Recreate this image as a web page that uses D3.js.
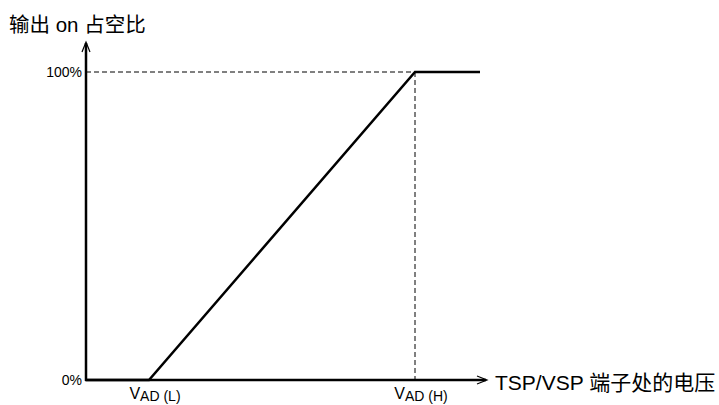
<!DOCTYPE html>
<html>
<head>
<meta charset="utf-8">
<script src="https://cdn.jsdelivr.net/npm/d3@7"></script>
<style>
  body { margin: 0; background: #fff; }
  text { font-family: "Liberation Sans", Arial, "Noto Sans CJK SC", sans-serif; fill: #000; }
</style>
</head>
<body>
<svg id="chart" width="719" height="405"></svg>
<script>
// voltage position (percent of axis length) vs duty
const voltage = [0, 15.75, 82.25, 98.5];
const duty = [0, 0, 100, 100];
const yTicks = [0, 100];
const yTickLabels = ["0%", "100%"];
const xMarks = [15.75, 82.25];
const xMarkLabels = ["L", "H"];

const svg = d3.select("#chart");
const x0 = 86, y0 = 380;

const x = d3.scaleLinear().domain([0, 100]).range([x0, 486]);
const y = d3.scaleLinear().domain([0, 100]).range([y0, 72]);

// dashed guides
svg.append("line")
  .attr("x1", x(0)).attr("x2", x(82.25))
  .attr("y1", y(100)).attr("y2", y(100))
  .attr("stroke", "#000").attr("stroke-width", 1).attr("stroke-dasharray", "5,3");
svg.append("line")
  .attr("x1", x(82.25)).attr("x2", x(82.25))
  .attr("y1", y(100)).attr("y2", y(0))
  .attr("stroke", "#000").attr("stroke-width", 1).attr("stroke-dasharray", "5,3");

// axes
svg.append("line")
  .attr("x1", x0).attr("x2", x0).attr("y1", y0 + 1).attr("y2", 43)
  .attr("stroke", "#000").attr("stroke-width", 2.5);
svg.append("path")
  .attr("d", `M${x0 - 4},52 L${x0},42 L${x0 + 4},52`)
  .attr("fill", "none").attr("stroke", "#000").attr("stroke-width", 1.2);

svg.append("line")
  .attr("x1", x0 - 1).attr("x2", 486).attr("y1", y0).attr("y2", y0)
  .attr("stroke", "#000").attr("stroke-width", 2.5);
svg.append("path")
  .attr("d", `M477,${y0 - 4} L487,${y0} L477,${y0 + 4}`)
  .attr("fill", "none").attr("stroke", "#000").attr("stroke-width", 1.2);

// curve
const pts = voltage.map((v, i) => [v, duty[i]]);
svg.append("path")
  .datum(pts)
  .attr("d", d3.line().x(d => x(d[0])).y(d => y(d[1])))
  .attr("fill", "none").attr("stroke", "#000").attr("stroke-width", 2.5)
  .attr("stroke-linejoin", "miter");

// y tick labels
svg.selectAll("text.ytick")
  .data(yTicks)
  .enter().append("text")
    .attr("class", "ytick")
    .attr("x", x0 - 4)
    .attr("y", d => y(d) + 5)
    .attr("text-anchor", "end")
    .style("font-size", "14px")
    .text((d, i) => yTickLabels[i]);

// x marks
const xl = svg.selectAll("text.xmark")
  .data(xMarks)
  .enter().append("text")
    .attr("class", "xmark")
    .attr("x", d => x(d) + 6)
    .attr("y", 399)
    .attr("text-anchor", "middle")
    .style("font-size", "16px");
xl.append("tspan").text("V");
xl.append("tspan").attr("dy", 2).style("font-size", "14px")
  .text((d, i) => `AD (${xMarkLabels[i]})`);

// axis titles
svg.append("text")
  .attr("x", 9).attr("y", 32)
  .style("font-size", "20.5px")
  .text("输出 on 占空比");

svg.append("text")
  .attr("x", 495).attr("y", 390)
  .style("font-size", "21px")
  .text("TSP/VSP 端子处的电压");
</script>
</body>
</html>
